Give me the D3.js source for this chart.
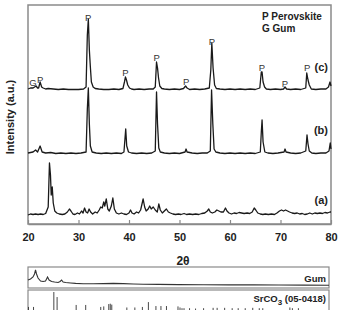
<!DOCTYPE html>
<html>
<head>
<meta charset="utf-8">
<script src="https://cdn.jsdelivr.net/npm/d3@7"></script>
<style>
  body { margin: 0; background: #fff; }
  svg { display: block; font-family: "Liberation Sans", Arial, sans-serif; }
  .tick text { font-weight: bold; font-size: 11px; fill: #222; }
  .peak { opacity: 0.99; }
</style>
</head>
<body>
<div class="chart"></div>
<script>
// XRD patterns, [2theta, intensity above own baseline]
var traceA = [[20,0],[20.5,1],[21,0.5],[21.5,1],[22,0.5],[22.5,1],[23,0.5],[23.5,1.5],[24,8],[24.25,52],[24.45,40],[24.6,20],[24.8,28],[25,12],[25.3,4],[25.7,2],[26.2,1],[26.8,0.5],[27.3,1],[27.8,3],[28.2,6],[28.5,4],[28.9,1],[29.3,0.5],[29.8,2],[30.2,1],[30.6,4],[30.9,2],[31.2,7],[31.5,3],[31.8,2],[32.1,6],[32.4,3],[32.8,1],[33.3,3],[33.7,2],[34.1,5],[34.4,8],[34.7,7],[35,13],[35.2,9],[35.5,16],[35.8,6],[36.1,4],[36.5,9],[36.8,17],[37.1,6],[37.5,2],[38,1],[38.5,2],[39,1],[39.5,0.5],[40,2],[40.3,5],[40.6,2],[41,1],[41.5,3],[41.9,2],[42.3,5],[42.8,16],[43.1,8],[43.4,4],[43.8,6],[44.1,9],[44.4,6],[44.8,8],[45.2,5],[45.6,3],[45.9,11],[46.2,5],[46.6,2],[47,4],[47.4,6],[47.8,3],[48.2,2],[48.7,1],[49.2,0.5],[49.8,1],[50.3,0.5],[50.9,1.5],[51.4,0.5],[52,1],[52.6,0.5],[53.2,1],[53.8,0.5],[54.4,1.5],[55,2],[55.5,4],[55.8,6],[56.1,3],[56.5,2],[57,3],[57.4,5],[57.8,4],[58.2,3],[58.7,3],[59.1,7],[59.4,4],[59.8,2],[60.3,1],[60.8,2],[61.3,1.5],[61.8,2.5],[62.3,2],[62.8,1.5],[63.4,2],[63.9,1.5],[64.4,3],[64.8,7],[65.1,5],[65.5,2],[66,1],[66.5,0.5],[67,1],[67.6,0.5],[68.2,1],[68.8,0.5],[69.3,2],[69.8,4],[70.2,5],[70.6,4],[71,5],[71.4,4],[71.8,3],[72.3,2],[72.8,1.5],[73.3,2],[73.8,1],[74.3,1.5],[74.8,0.5],[75.3,1],[75.8,2],[76.3,1],[76.8,2],[77.3,1.5],[77.8,2],[78.3,1.5],[78.8,2.5],[79.3,2],[79.8,3],[80,3]];

var traceB = [[20,1],[20.5,1.5],[21,2],[21.5,4],[21.9,2],[22.4,8],[22.8,2],[23.5,1],[24.5,1.5],[25.5,0.5],[26.5,1],[27.5,0.5],[28.5,1],[29.5,0.5],[30.5,1],[31.5,2],[31.75,45],[31.95,66],[32.15,30],[32.35,8],[32.7,2],[33.5,1],[34.5,0.5],[35.5,1],[36.5,0.5],[37.5,1],[38.5,0.5],[39,2],[39.2,15],[39.35,25],[39.55,8],[39.9,2],[40.5,1],[41.5,0.5],[42.5,1],[43.5,0.5],[44.5,1],[45.2,3],[45.45,62],[45.65,30],[45.9,6],[46.2,2],[47,1],[48,0.5],[49,1],[50,0.5],[51.1,2],[51.3,5],[51.5,2],[52.5,1],[53.5,0.5],[54.5,1],[55.5,1],[56.1,3],[56.35,64],[56.6,30],[56.85,5],[57.2,2],[58,1],[59,0.5],[60,1],[61,0.5],[62,1],[63,0.5],[64,1],[65,0.5],[66,2],[66.2,22],[66.35,34],[66.55,12],[66.9,2],[67.5,1],[68.5,0.5],[69.5,1],[70.7,2],[70.9,5],[71.1,2],[72,1],[73,0.5],[74,1],[75,3],[75.25,19],[75.45,10],[75.7,3],[76.2,1],[77,0.5],[78,1],[79,1],[79.6,3],[79.85,11],[80,5]];

var traceC = [[20,1],[20.5,2],[21,2],[21.3,3],[21.6,4],[21.9,2],[22.1,2],[22.4,8],[22.7,3],[23,2],[23.5,1],[24,1.5],[25,1],[26,0.5],[27,1],[28,0.5],[29,0.5],[30,0.5],[31,1],[31.5,3],[31.75,55],[31.95,71],[32.15,40],[32.35,23],[32.55,8],[32.9,3],[33.3,1.5],[34,1],[35,0.5],[36,0.5],[37,1],[38,0.5],[38.8,1.5],[39.1,8],[39.3,13],[39.5,10],[39.75,5],[40.1,2],[40.5,1],[41,0.5],[42,1],[43,0.5],[44,1],[44.8,1],[45.2,3],[45.45,28],[45.65,22],[45.85,12],[46.1,4],[46.5,1.5],[47,1],[48,0.5],[49,1],[50,0.5],[50.8,1.5],[51.2,4],[51.5,2],[52,0.5],[53,1],[54,0.5],[55,1],[55.9,2],[56.2,20],[56.4,47],[56.65,22],[56.95,5],[57.3,1.5],[58,1],[59,0.5],[60,1],[61,0.5],[62,1],[63,0.5],[64,1],[65,0.5],[65.9,2],[66.2,18],[66.35,18],[66.55,8],[66.85,3],[67.2,1],[68,0.5],[69,1],[70,0.5],[70.6,1],[70.9,3],[71.2,1],[72,0.5],[73,1],[74,0.5],[75,2],[75.2,17],[75.45,10],[75.7,5],[76.1,1],[77,0.5],[78,1],[79,1],[79.5,3],[79.8,8],[80,4]];

var gumTrace = [[20,8],[20.5,9],[21,11],[21.3,14],[21.5,18],[21.7,14],[22,10],[22.5,7],[23,6.5],[23.5,7],[23.9,11],[24.2,8],[24.7,6.5],[25.3,6],[26,5.5],[26.4,6.5],[26.7,8],[27,6],[27.5,5.5],[28.5,5],[29.5,4.6],[31,4.3],[33,4.2],[35,4.4],[37,4.6],[39,4.4],[41,4],[43,3.8],[46,3.6],[50,3.4],[55,3.2],[60,3.1],[65,3.1],[70,3],[75,2.9],[80,2.8]];

// SrCO3 reference card 05-0418, [2theta, relative intensity]
var srco3Sticks = [[20.1,17],[21.1,17],[25.15,100],[25.8,72],[29.6,28],[31.5,28],[34.5,17],[35.1,20],[36.1,33],[36.4,35],[36.7,30],[39.7,14],[41.3,14],[42.8,17],[44.0,44],[45.5,22],[46.5,22],[47.6,22],[49.9,20],[50.3,14],[50.7,10],[51.1,10],[52.2,10],[53.4,8],[55.0,10],[56.9,12],[57.7,12],[59.2,12],[60.7,10],[61.9,10],[63.3,10],[64.8,12],[66.1,10],[66.8,10],[72.2,14],[72.7,10],[73.9,10]];

var traceNames = ["(a)", "(b)", "(c)"];
var traceOffsets = [9, 70, 134];
var xTicks = [20, 30, 40, 50, 60, 70, 80];

// peak markers: [2theta, intensity on main scale, letter]
var peakLabels = [[21.0, 141, "G"], [22.4, 144, "P"], [31.9, 206, "P"], [39.3, 151, "P"], [45.5, 166, "P"], [51.3, 142, "P"], [56.4, 182, "P"], [66.3, 156, "P"], [70.9, 140, "P"], [75.3, 156, "P"]];

var svgWidth = 338;
var svgHeight = 310;

var svg = d3.select(".chart")
  .append("svg")
  .attr("width", svgWidth)
  .attr("height", svgHeight);

var plotLeft = 28, plotRight = 331, plotTop = 5, plotBottom = 224;

var x = d3.scaleLinear().domain([20, 80]).range([plotLeft, plotRight]);
var y = d3.scaleLinear().domain([0, 219]).range([plotBottom, plotTop]);

// frame
svg.append("rect")
  .attr("x", plotLeft).attr("y", plotTop)
  .attr("width", plotRight - plotLeft).attr("height", plotBottom - plotTop)
  .attr("fill", "none").attr("stroke", "#8a8a8a").attr("stroke-width", 1.5);

var xAxis = d3.axisBottom(x).tickValues(xTicks).tickSizeInner(-4).tickSizeOuter(0).tickPadding(9);
var gx = svg.append("g")
  .attr("transform", `translate(0, ${plotBottom})`)
  .call(xAxis);
gx.select(".domain").attr("stroke", "#8a8a8a").attr("stroke-width", 1.5);
gx.selectAll(".tick line").attr("stroke", "#8a8a8a").attr("stroke-width", 1.2);

// traces
var traces = [traceA, traceB, traceC];
traces.forEach(function(t, i) {
  var line = d3.line()
    .x(d => x(d[0]))
    .y(d => y(d[1] + traceOffsets[i]));
  svg.append("path")
    .datum(t)
    .attr("d", line)
    .attr("fill", "none")
    .attr("stroke", "#1a1a1a")
    .attr("stroke-width", 1.3)
    .attr("stroke-linejoin", "round");
});

// trace names
var nameY = [200, 130, 67];
traceNames.forEach(function(n, i) {
  svg.append("text")
    .attr("x", 328).attr("y", nameY[i])
    .attr("dy", "0.35em")
    .attr("text-anchor", "end")
    .attr("font-weight", "bold")
    .attr("font-size", "11px")
    .attr("fill", "#222")
    .text(n);
});

// peak labels
svg.selectAll(".peak")
  .data(peakLabels)
  .enter()
  .append("text")
  .attr("class", "peak")
  .attr("x", d => x(d[0]))
  .attr("y", d => y(d[1]))
  .attr("dy", "0.35em")
  .attr("text-anchor", "middle")
  .attr("font-size", "9.5px")
  .attr("fill", "#333")
  .text(d => d[2]);

// legend
svg.append("text").attr("x", 262).attr("y", 20)
  .attr("font-weight", "bold").attr("font-size", "10px").attr("fill", "#222")
  .text("P Perovskite");
svg.append("text").attr("x", 262).attr("y", 32)
  .attr("font-weight", "bold").attr("font-size", "10px").attr("fill", "#222")
  .text("G Gum");

// axis labels
svg.append("text")
  .attr("transform", "rotate(-90)")
  .attr("x", -117).attr("y", 10)
  .attr("dy", "0.35em")
  .attr("text-anchor", "middle")
  .attr("font-weight", "bold")
  .attr("font-size", "11px")
  .attr("fill", "#222")
  .text("Intensity (a.u.)");

svg.append("text")
  .attr("x", 183).attr("y", 261)
  .attr("dy", "0.35em")
  .attr("text-anchor", "middle")
  .attr("font-weight", "bold")
  .attr("font-size", "12px")
  .attr("fill", "#222")
  .text("2θ");

// Gum panel
var px = d3.scaleLinear().domain([20, 80]).range([plotLeft, 329]);
var gumTop = 267, gumBottom = 288;
var gy = d3.scaleLinear().domain([0, 21]).range([gumBottom, gumTop]);
svg.append("rect")
  .attr("x", plotLeft).attr("y", gumTop)
  .attr("width", 329 - plotLeft).attr("height", gumBottom - gumTop)
  .attr("fill", "none").attr("stroke", "#8a8a8a").attr("stroke-width", 1.2);
svg.append("path")
  .datum(gumTrace)
  .attr("d", d3.line().x(d => px(d[0])).y(d => gy(d[1])))
  .attr("fill", "none").attr("stroke", "#333").attr("stroke-width", 1.1);
svg.append("text")
  .attr("x", 326).attr("y", 282)
  .attr("text-anchor", "end")
  .attr("font-weight", "bold").attr("font-size", "9.5px").attr("fill", "#222")
  .text("Gum");

// SrCO3 panel
var srTop = 290, srBottom = 312;
var sy = d3.scaleLinear().domain([0, 100]).range([310, 292]);
svg.append("rect")
  .attr("x", plotLeft).attr("y", srTop)
  .attr("width", 329 - plotLeft).attr("height", srBottom - srTop)
  .attr("fill", "none").attr("stroke", "#8a8a8a").attr("stroke-width", 1.2);
svg.selectAll(".stick")
  .data(srco3Sticks)
  .enter()
  .append("line")
  .attr("class", "stick")
  .attr("x1", d => px(d[0])).attr("x2", d => px(d[0]))
  .attr("y1", sy(0)).attr("y2", d => sy(d[1]))
  .attr("stroke", "#333").attr("stroke-width", 0.9);
var srLabel = svg.append("text")
  .attr("x", 326).attr("y", 302)
  .attr("text-anchor", "end")
  .attr("font-weight", "bold").attr("font-size", "9.5px").attr("fill", "#222");
srLabel.append("tspan").text("SrCO");
srLabel.append("tspan").attr("dy", 2.5).attr("font-size", "8px").text("3");
srLabel.append("tspan").attr("dy", -2.5).text(" (05-0418)");
</script>
</body>
</html>
